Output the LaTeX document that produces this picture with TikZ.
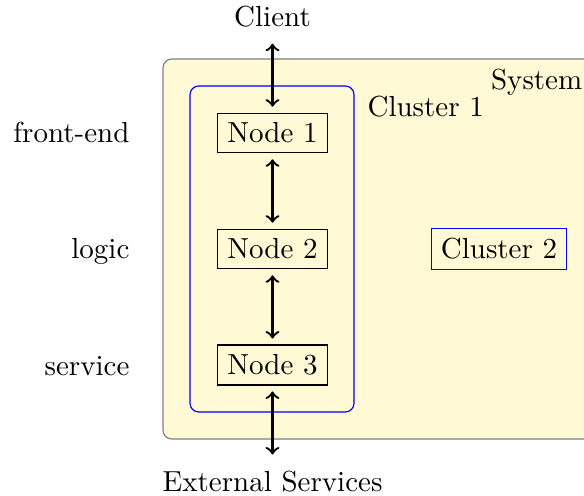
\documentclass[tikz,border=0pt]{standalone}
\begin{document}
\begin{tikzpicture}[x=0.3448pt,y=-0.3448pt,
  box/.style={draw=black,line width=0.4pt,inner sep=3.33pt},
  link/.style={thick,<->,shorten <=2pt,shorten >=2pt},
  tag/.style={inner sep=0pt}]
\definecolor{sysfill}{RGB}{255,249,214}
\useasboundingbox (0,0) rectangle (584,496);

% system area and cluster frame
\draw[gray,line width=0.4pt,fill=sysfill,rounded corners=3pt] (163,59) rectangle (620,439);
\draw[blue,line width=0.4pt,rounded corners=3pt] (190,86) rectangle (354,412);
\node[tag,anchor=base west] (syslabel) at (490.5,90) {System};
\node[tag,anchor=base west] (c1label) at (367,117) {Cluster 1};

% tier nodes
\node[box] (n1) at (272.5,133) {Node 1};
\node[box] (n2) at (272.5,249) {Node 2};
\node[box] (n3) at (272.5,365) {Node 3};
\node[box,draw=blue] (cl2) at (499,249) {Cluster 2};

% endpoints
\node[anchor=base] (client) at (272.5,27) {Client};
\node[anchor=base] (ext) at (272.5,491) {External Services};

% tier names
\node[tag,anchor=base east] (fe) at (130,143) {front-end};
\node[tag,anchor=base east] (lg) at (130,259) {logic};
\node[tag,anchor=base east] (sv) at (130,375) {service};

% links
\draw[link] (client) -- (n1);
\draw[link] (n1) -- (n2);
\draw[link] (n2) -- (n3);
\draw[link] (n3) -- (ext);
\end{tikzpicture}
\end{document}
